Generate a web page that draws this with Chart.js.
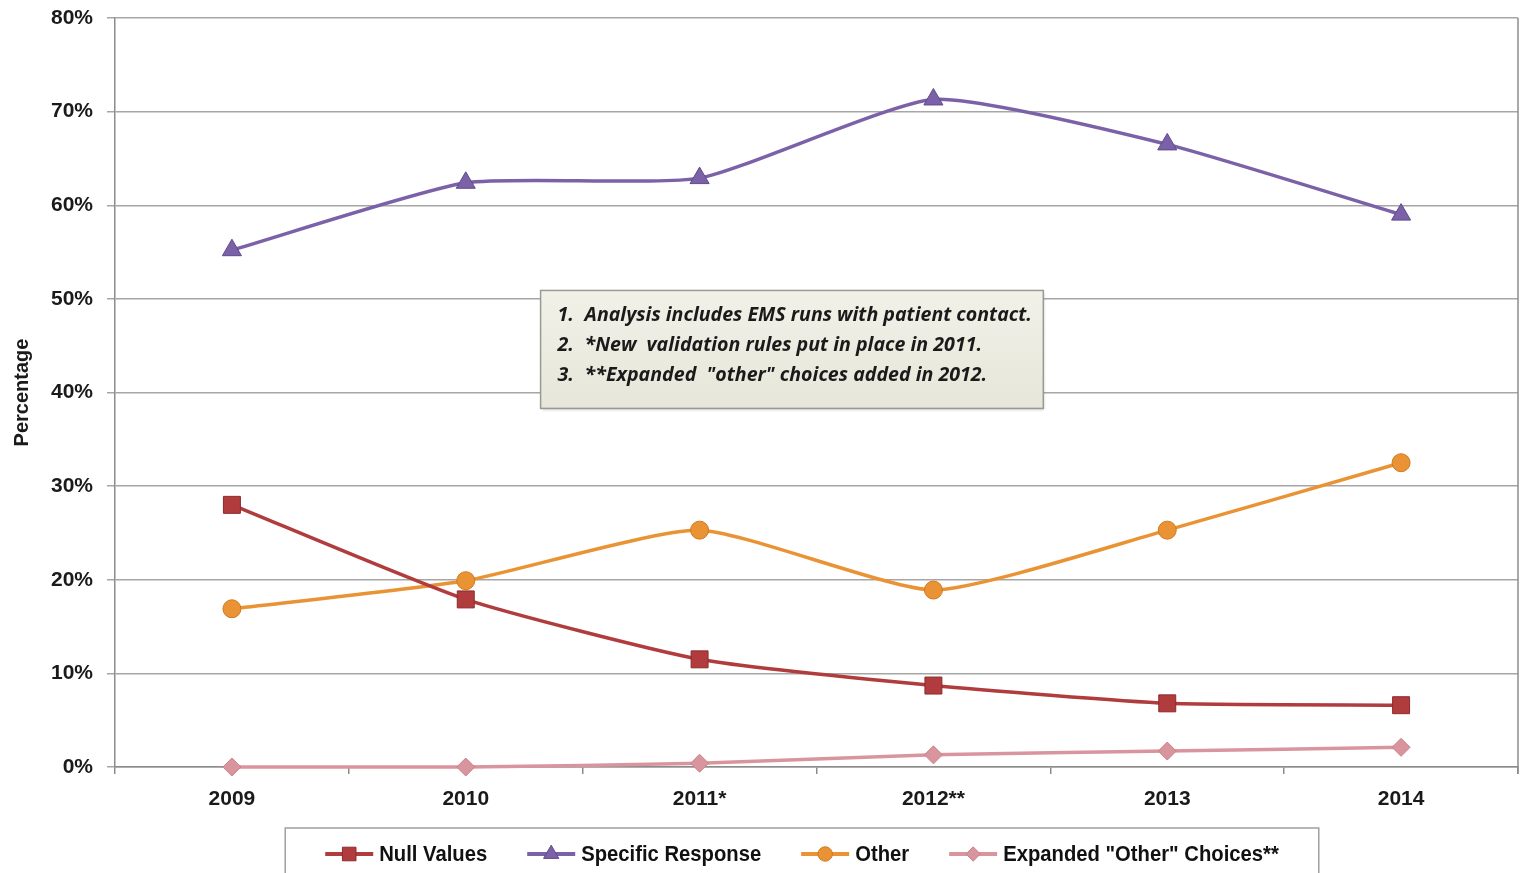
<!DOCTYPE html>
<html>
<head>
<meta charset="utf-8">
<script src="https://cdn.jsdelivr.net/npm/chart.js@4.4.0/dist/chart.umd.min.js"></script>
<style>
  html, body { margin: 0; padding: 0; background: #fff; }
  #wrap { width: 1525px; height: 873px; }
</style>
</head>
<body>
<div id="wrap"><canvas id="trendChart" width="1525" height="873"></canvas></div>
<script>
// Years on the x axis (asterisks refer to the notes box)
const years = ['2009', '2010', '2011*', '2012**', '2013', '2014'];

// Percent of runs per response type
const nullValues = [28.0, 17.9, 11.5, 8.7, 6.8, 6.6];
const specificResponse = [55.2, 62.4, 62.9, 71.3, 66.5, 59.0];
const otherValues = [16.9, 19.9, 25.3, 18.9, 25.3, 32.5];
const expandedOther = [0, 0, 0.4, 1.3, 1.7, 2.1];

const yTicks = [0, 10, 20, 30, 40, 50, 60, 70, 80];

const notes = [
    ['1.', 'Analysis includes EMS runs with patient contact.'],
    ['2.', '*New  validation rules put in place in 2011.'],
    ['3.', '**Expanded  "other" choices added in 2012.']
];

const axisFont = { family: "'Liberation Sans Narrow', 'Arial Narrow', 'Liberation Sans', sans-serif", size: 21, weight: 'bold' };
const gridGrey = '#a6a6a6';

const series = [
    { label: 'Null Values', data: nullValues, color: '#b13c3e', edge: '#8e2a2c', style: 'rect', radius: 12 },
    { label: 'Specific Response', data: specificResponse, color: '#7b62a8', edge: '#5f4a8a', style: 'triangle', radius: 11 },
    { label: 'Other', data: otherValues, color: '#e99334', edge: '#d07a1e', style: 'circle', radius: 9 },
    { label: 'Expanded "Other" Choices**', data: expandedOther, color: '#d9959d', edge: '#c98088', style: 'rectRot', radius: 9 }
];

// small marker painter shared by the legend
function paintMarker(ctx, style, x, y, r, fill, edge) {
    ctx.save();
    ctx.fillStyle = fill;
    ctx.strokeStyle = edge;
    ctx.lineWidth = 1;
    ctx.beginPath();
    if (style === 'rect') {
        const s = r * Math.SQRT1_2;
        ctx.rect(x - s, y - s, 2 * s, 2 * s);
    } else if (style === 'triangle') {
        ctx.moveTo(x, y - r);
        ctx.lineTo(x + r * 0.866, y + r * 0.5);
        ctx.lineTo(x - r * 0.866, y + r * 0.5);
        ctx.closePath();
    } else if (style === 'circle') {
        ctx.arc(x, y, r, 0, Math.PI * 2);
    } else {
        ctx.moveTo(x, y - r);
        ctx.lineTo(x + r, y);
        ctx.lineTo(x, y + r);
        ctx.lineTo(x - r, y);
        ctx.closePath();
    }
    ctx.fill();
    ctx.stroke();
    ctx.restore();
}

// right edge of the plot frame
const frameRight = {
    id: 'frameRight',
    beforeDatasetsDraw(chart) {
        const { ctx, chartArea } = chart;
        ctx.save();
        ctx.strokeStyle = '#8c8c8c';
        ctx.lineWidth = 1.5;
        ctx.beginPath();
        ctx.moveTo(chartArea.right, chartArea.top);
        ctx.lineTo(chartArea.right, chartArea.bottom + 7);
        ctx.stroke();
        ctx.restore();
    }
};

// notes box in the middle of the plot
const notesBox = {
    id: 'notesBox',
    afterDatasetsDraw(chart) {
        const { ctx } = chart;
        const xs = chart.scales.x, ys = chart.scales.y;
        const left = xs.getPixelForValue(1.32);
        const right = xs.getPixelForValue(3.47);
        const top = ys.getPixelForValue(50.9);
        const bottom = ys.getPixelForValue(38.3);
        ctx.save();
        ctx.shadowColor = 'rgba(0,0,0,0.25)';
        ctx.shadowBlur = 3;
        ctx.shadowOffsetX = 1;
        ctx.shadowOffsetY = 2;
        const g = ctx.createLinearGradient(0, top, 0, bottom);
        g.addColorStop(0, '#f1f1e8');
        g.addColorStop(1, '#e6e6da');
        ctx.fillStyle = g;
        ctx.fillRect(left, top, right - left, bottom - top);
        ctx.shadowColor = 'transparent';
        ctx.strokeStyle = '#9a9a94';
        ctx.lineWidth = 1.5;
        ctx.strokeRect(left, top, right - left, bottom - top);
        ctx.fillStyle = '#1a1a1a';
        ctx.font = "italic bold 19.6px 'Open Sans', Lato, sans-serif";
        ctx.textBaseline = 'middle';
        notes.forEach((n, i) => {
            const y = top + 25 + i * 30;
            ctx.fillText(n[0], left + 17, y);
            ctx.fillText(n[1], left + 44, y);
        });
        ctx.restore();
    }
};

// boxed legend under the axis, line with marker in front of each label
const boxLegend = {
    id: 'boxLegend',
    afterDraw(chart) {
        const { ctx } = chart;
        ctx.save();
        ctx.font = "bold 22px 'Liberation Sans Narrow', 'Arial Narrow', 'Liberation Sans', sans-serif";
        ctx.textBaseline = 'middle';
        const squeeze = 0.92;
        const lineLen = 48, textGap = 6, itemGap = 40, pad = 40;
        const textW = s => ctx.measureText(s.label).width * squeeze;
        let total = 0;
        series.forEach((s, i) => {
            total += lineLen + textGap + textW(s);
            if (i < series.length - 1) total += itemGap;
        });
        const cx = 802;
        const boxLeft = cx - total / 2 - pad;
        const boxRight = cx + total / 2 + pad;
        const boxTop = 828;
        ctx.fillStyle = '#fff';
        ctx.fillRect(boxLeft, boxTop, boxRight - boxLeft, 60);
        ctx.strokeStyle = '#a0a0a0';
        ctx.lineWidth = 1.5;
        ctx.strokeRect(boxLeft, boxTop, boxRight - boxLeft, 60);
        const y = 854;
        let x = boxLeft + pad;
        series.forEach(s => {
            ctx.strokeStyle = s.color;
            ctx.lineWidth = 4;
            ctx.beginPath();
            ctx.moveTo(x, y);
            ctx.lineTo(x + lineLen, y);
            ctx.stroke();
            paintMarker(ctx, s.style, x + lineLen / 2, y, s.radius * 0.8, s.color, s.edge);
            x += lineLen + textGap;
            ctx.save();
            ctx.translate(x, y + 1);
            ctx.scale(squeeze, 1);
            ctx.fillStyle = '#111';
            ctx.fillText(s.label, 0, 0);
            ctx.restore();
            x += textW(s) + itemGap;
        });
        ctx.restore();
    }
};

const ctx = document.getElementById('trendChart').getContext('2d');
new Chart(ctx, {
    type: 'line',
    data: {
        labels: years,
        datasets: series.map(s => ({
            label: s.label,
            data: s.data,
            borderColor: s.color,
            backgroundColor: s.color,
            pointBorderColor: s.edge,
            pointBorderWidth: 1,
            pointStyle: s.style,
            pointRadius: s.radius,
            pointHoverRadius: s.radius,
            borderWidth: 3.5,
            tension: 0.18,
            clip: false,
            fill: false
        }))
    },
    options: {
        responsive: false,
        animation: false,
        layout: { autoPadding: false, padding: { left: 0, right: 7, top: 18, bottom: 0 } },
        plugins: {
            legend: { display: false },
            tooltip: { enabled: false }
        },
        scales: {
            x: {
                offset: true,
                afterFit: s => {
                    s.height = 106;
                    s.paddingLeft = 0;
                    s.paddingRight = 0;
                },
                grid: {
                    display: true,
                    offset: true,
                    drawOnChartArea: false,
                    drawTicks: true,
                    tickLength: 7,
                    color: '#8c8c8c',
                    lineWidth: 1.5
                },
                border: { color: '#8c8c8c', width: 1.5 },
                ticks: {
                    color: '#1a1a1a',
                    font: axisFont,
                    padding: 13,
                    maxRotation: 0
                }
            },
            y: {
                min: 0,
                max: 80,
                afterFit: s => {
                    s.width = 115;
                    s.paddingTop = 0;
                    s.paddingBottom = 0;
                },
                afterBuildTicks: s => { s.ticks = yTicks.map(v => ({ value: v })); },
                grid: {
                    color: gridGrey,
                    lineWidth: 1.5,
                    drawTicks: true,
                    tickLength: 8
                },
                border: { color: '#8c8c8c', width: 1.5 },
                ticks: {
                    color: '#1a1a1a',
                    font: axisFont,
                    padding: 14,
                    callback: v => v + '%'
                },
                title: {
                    display: true,
                    text: 'Percentage',
                    color: '#1a1a1a',
                    font: { family: "'Liberation Sans Narrow', 'Arial Narrow', 'Liberation Sans', sans-serif", size: 20, weight: 'bold' },
                    padding: { top: 10, bottom: 0 }
                }
            }
        }
    },
    plugins: [frameRight, notesBox, boxLegend]
});
</script>
</body>
</html>
